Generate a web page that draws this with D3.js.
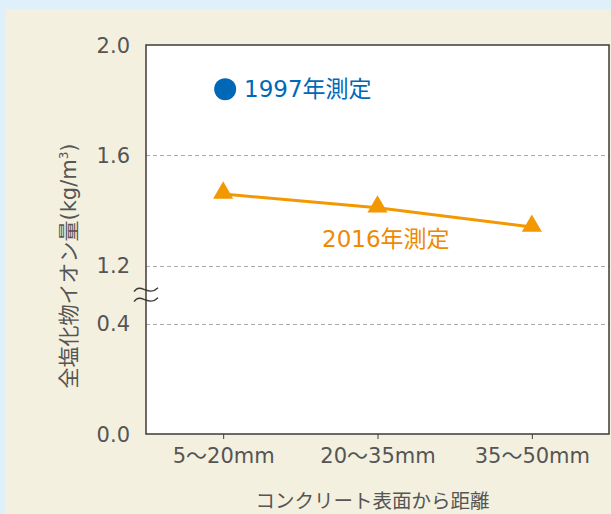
<!DOCTYPE html>
<html lang="ja">
<head>
<meta charset="utf-8">
<title>全塩化物イオン量</title>
<script src="https://cdn.jsdelivr.net/npm/d3@7"></script>
<style>
  body { margin: 0; background: #dff0fa; }
  svg { display: block; }
  text { font-family: "DejaVu Sans", "Noto Sans CJK JP", sans-serif; }
</style>
</head>
<body>
<script>
// data
var categories = ["5〜20mm", "20〜35mm", "35〜50mm"];
var values2016 = [1.46, 1.41, 1.34];
var values1997 = [1.84];          // only the 5〜20mm depth
var yTicks = [0.0, 0.4, 1.2, 1.6, 2.0];
var gridTicks = [0.4, 1.2, 1.6];

var W = 611, H = 514;
var pL = 146, pR = 609, pT = 45, pB = 434;
var gap = 58;  // height of the axis break
var unit = (pB - pT - gap) / 1.2;  // px per 1.0 (0.4 below the break, 0.8 above)

var svg = d3.select("body").append("svg")
    .attr("width", W).attr("height", H);

svg.append("rect").attr("x", 0).attr("y", 0).attr("width", W).attr("height", H)
    .attr("fill", "#dff0fa");
svg.append("rect").attr("x", 5).attr("y", 9).attr("width", W - 5).attr("height", H - 9)
    .attr("fill", "#f3f0df");

// scales (broken y axis: 0-0.4 and 1.2-2.0)
var x = d3.scalePoint().domain(categories).range([pL, pR]).padding(0.5);
var y = d3.scaleLinear()
    .domain([0, 0.4, 1.2, 2.0])
    .range([pB, pB - 0.4 * unit, pT + 0.8 * unit, pT]);

// plot area
svg.append("rect").attr("x", pL).attr("y", pT)
    .attr("width", pR - pL).attr("height", pB - pT)
    .attr("fill", "#fff");

// grid
svg.selectAll(".grid").data(gridTicks).enter().append("line")
    .attr("x1", pL).attr("x2", pR)
    .attr("y1", function(d) { return Math.round(y(d)) + 0.5; })
    .attr("y2", function(d) { return Math.round(y(d)) + 0.5; })
    .attr("stroke", "#aaa").attr("stroke-width", 1)
    .attr("stroke-dasharray", "4,3");

svg.append("rect").attr("x", pL).attr("y", pT)
    .attr("width", pR - pL).attr("height", pB - pT)
    .attr("fill", "none").attr("stroke", "#3e3a39").attr("stroke-width", 1.5);

// y tick labels
svg.selectAll(".ylab").data(yTicks).enter().append("text")
    .attr("x", 130).attr("y", function(d) { return y(d); })
    .attr("dy", "0.36em")
    .attr("text-anchor", "end")
    .attr("font-size", 21).attr("fill", "#555")
    .text(function(d) { return d.toFixed(1); });

// x axis ticks + labels
var xAxis = d3.axisBottom(x).tickSize(5).tickPadding(7);
var gx = svg.append("g").attr("transform", "translate(0," + pB + ")").call(xAxis);
gx.select(".domain").remove();
gx.selectAll("line").attr("stroke", "#3e3a39");
gx.selectAll("text").attr("font-size", 21).attr("fill", "#555")
    .attr("font-family", "DejaVu Sans, Noto Sans CJK JP").attr("dy", "0.8em");

// break mark on the y axis
var bm = (y(0.4) + y(1.2)) / 2;
[-5, 5].forEach(function(off) {
  svg.append("path")
    .attr("d", "M" + (pL - 12) + "," + (bm + off + 2) +
               " C" + (pL - 5) + "," + (bm + off - 8) + " " + (pL + 2) + "," + (bm + off + 8) +
               " " + (pL + 12) + "," + (bm + off - 2))
    .attr("fill", "none").attr("stroke", "#3e3a39").attr("stroke-width", 1.4);
});

// 2016 series
var line = d3.line()
    .x(function(d, i) { return x(categories[i]); })
    .y(function(d) { return y(d); });
svg.append("path").datum(values2016)
    .attr("d", line).attr("fill", "none")
    .attr("stroke", "#f39800").attr("stroke-width", 3);
svg.selectAll(".tri").data(values2016).enter().append("path")
    .attr("d", d3.symbol().type(d3.symbolTriangle).size(175))
    .attr("transform", function(d, i) {
      return "translate(" + x(categories[i]) + "," + (y(d) - 1) + ")";
    })
    .attr("fill", "#f39800");

// 1997 point
svg.selectAll(".dot").data(values1997).enter().append("circle")
    .attr("cx", function(d, i) { return x(categories[i]) + 2; })
    .attr("cy", function(d) { return y(d); })
    .attr("r", 11).attr("fill", "#0068b7");

svg.append("text").attr("x", 244).attr("y", y(values1997[0])).attr("dy", "0.36em")
    .attr("font-size", 23).attr("fill", "#0068b7")
    .text("1997年測定");
svg.append("text").attr("x", 322).attr("y", 239).attr("dy", "0.36em")
    .attr("font-size", 23).attr("fill", "#ee8a00")
    .text("2016年測定");

// axis titles
svg.append("text").attr("x", (pL + pR) / 2 - 5).attr("y", 508)
    .attr("text-anchor", "middle").attr("font-size", 19.5).attr("fill", "#555")
    .attr("font-family", "Noto Sans CJK JP")
    .text("コンクリート表面から距離");

var yt = svg.append("text")
    .attr("transform", "translate(76,266) rotate(-90)")
    .attr("text-anchor", "middle").attr("font-size", 21).attr("fill", "#555")
    .attr("font-family", "Noto Sans CJK JP");
yt.append("tspan").text("全塩化物イオン量(kg/m");
yt.append("tspan").attr("font-size", 12).attr("dy", -8).text("3");
yt.append("tspan").attr("dy", 8).text(")");
</script>
</body>
</html>
